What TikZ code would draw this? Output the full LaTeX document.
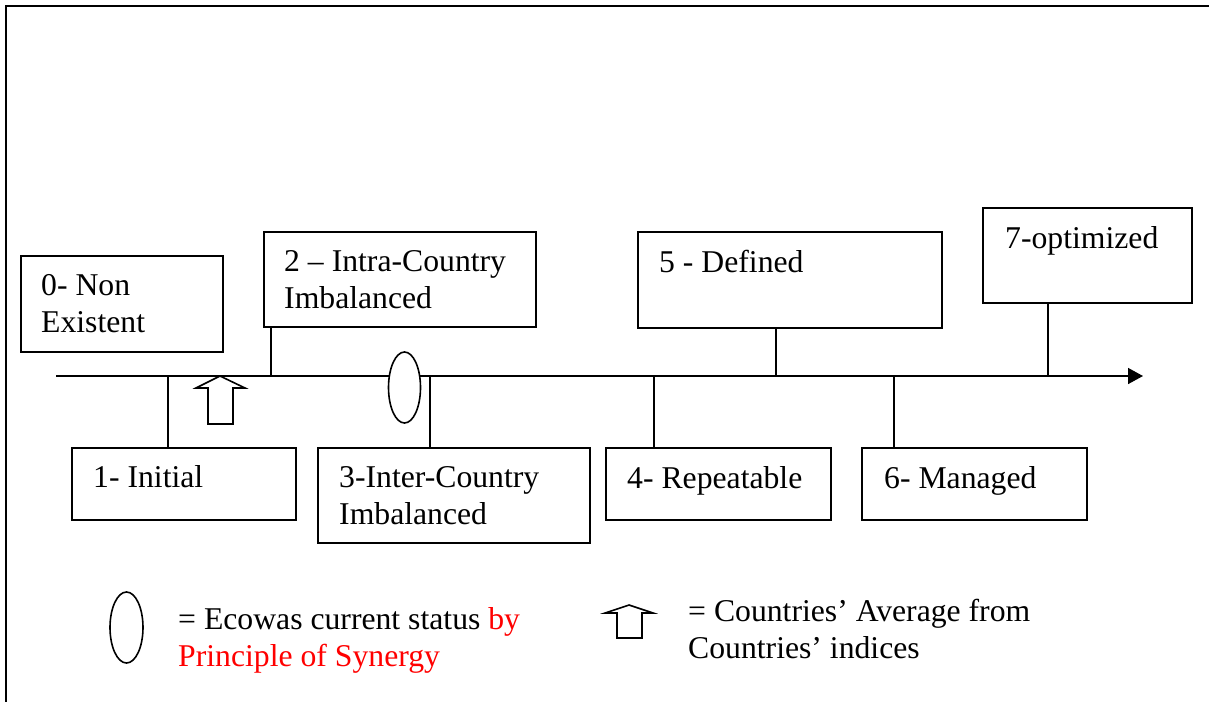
\documentclass[tikz,border=0pt]{standalone}
\usepackage{fontspec}
\setmainfont{Liberation Serif}
\usetikzlibrary{arrows.meta,shapes.geometric,fit}
\begin{document}
\begin{tikzpicture}[x=1pt,y=-1pt,
  frameline/.style={line width=2.4pt},
  stagebox/.style={draw, line width=1.6pt, rectangle, inner sep=0pt},
  lbl/.style={anchor=base west, inner sep=0pt, align=left, font=\fontsize{31.7}{37}\selectfont},
  tick/.style={line width=1.6pt},
  statusmark/.style={draw, ellipse, fill=white, line width=1.6pt, inner sep=0pt},
  avgarrow/.style={draw, line width=1.6pt, fill=white, line join=miter}]
\useasboundingbox (0,0) rectangle (1209,702);
% frame
\draw[frameline] (1209,6) -- (6,6) -- (6,702);

% boxes
\node[stagebox, fit={(21,256)(223,352)}] (b0) {};
\node[stagebox, fit={(72,448)(296,520)}] (b1) {};
\node[stagebox, fit={(264,232)(536,327)}] (b2) {};
\node[stagebox, fit={(318,448)(590,543)}] (b3) {};
\node[stagebox, fit={(606,448)(831,520)}] (b4) {};
\node[stagebox, fit={(638,232)(942,328)}] (b5) {};
\node[stagebox, fit={(862,448)(1087,520)}] (b6) {};
\node[stagebox, fit={(983,208)(1192,303)}] (b7) {};

% labels (base = baseline of the last line)
\node[lbl] (t0) at (41,332) {0- Non\\Existent};
\node[lbl] (t1) at (93,487) {1- Initial};
\node[lbl] (t2) at (284,308) {2 – Intra-Country\\Imbalanced};
\node[lbl] (t3) at (339,524) {3-Inter-Country\\Imbalanced};
\node[lbl] (t4) at (627,488) {4- Repeatable};
\node[lbl] (t5) at (659,272) {5 - Defined};
\node[lbl] (t6) at (884,488) {6- Managed};
\node[lbl] (t7) at (1005,248) {7-optimized};

% axis
\coordinate (ax0) at (56,376);
\coordinate (ax1) at (1143,376);
\draw[tick, -{Triangle[length=15pt,width=16pt]}] (ax0) -- (ax1);

% ticks
\coordinate (k1) at (168,376);
\coordinate (k2) at (271,376);
\coordinate (k3) at (430,376);
\coordinate (k4) at (654,376);
\coordinate (k5) at (776,376);
\coordinate (k6) at (894,376);
\coordinate (k7) at (1048,376);
\draw[tick] (k1) -- (k1 |- b1.north);
\draw[tick] (k2) -- (k2 |- b2.south);
\draw[tick] (k3) -- (k3 |- b3.north);
\draw[tick] (k4) -- (k4 |- b4.north);
\draw[tick] (k5) -- (k5 |- b5.south);
\draw[tick] (k6) -- (k6 |- b6.north);
\draw[tick] (k7) -- (k7 |- b7.south);

% status ellipse and average arrow
\node[statusmark, minimum width=32pt, minimum height=71pt] (st) at (404.5,387.5) {};
\draw[avgarrow] (220,376) -- (245,388) -- (233,388) -- (233,424) -- (208,424) -- (208,388) -- (196,388) -- cycle;

% legend
\node[statusmark, minimum width=33pt, minimum height=71pt] (lst) at (126.5,627.5) {};
\node[lbl] (leg1) at (178,666) {= Ecowas current status \textcolor{red}{by}\\\textcolor{red}{Principle of Synergy}};
\draw[avgarrow] (629,605) -- (653,613) -- (642,613) -- (642,638) -- (617,638) -- (617,613) -- (605,613) -- cycle;
\node[lbl] (leg2) at (688,658) {= Countries’ Average from\\Countries’ indices};
\end{tikzpicture}
\end{document}
